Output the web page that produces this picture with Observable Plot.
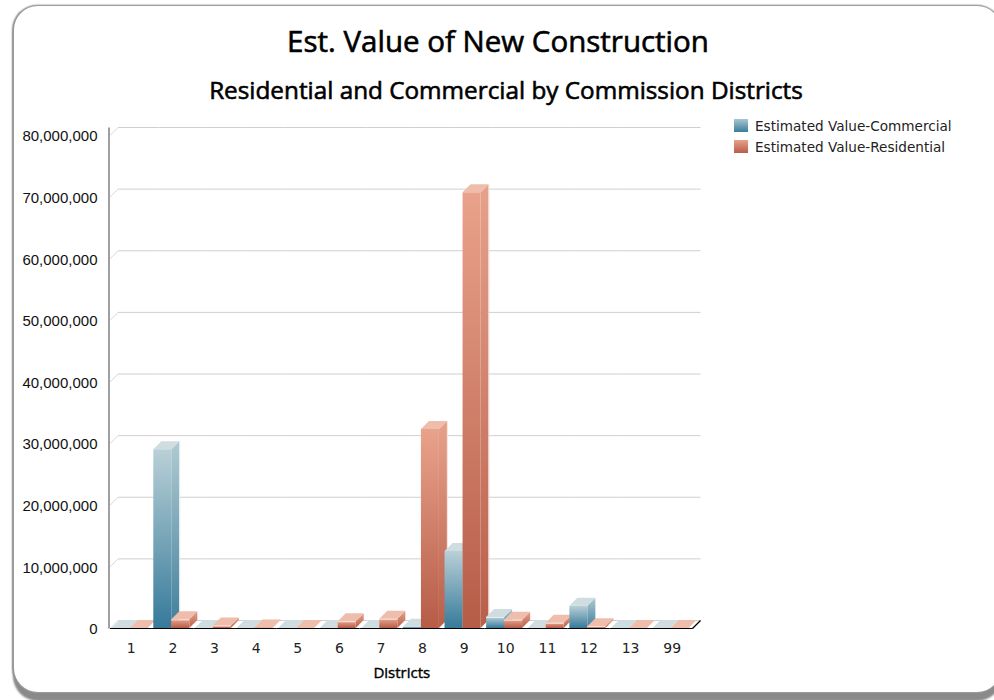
<!DOCTYPE html>
<html>
<head>
<meta charset="utf-8">
<script src="https://cdn.jsdelivr.net/npm/d3@7"></script>
<script src="https://cdn.jsdelivr.net/npm/@observablehq/plot@0.6"></script>
<style>
html,body{margin:0;padding:0;background:#fff;width:994px;height:700px;overflow:hidden}
#card{position:absolute;left:13.5px;top:6px;width:987px;height:686px;box-sizing:border-box;border-radius:24px;background:#fff;
 box-shadow:0 0 1.5px 1px #9c9c9c, -0.5px 0 1.5px 1px #8c8c8c, 0 8px 2px 1px #8a8a8a;pointer-events:none}
.t{position:absolute;text-align:center;color:#000;font-family:"Open Sans",sans-serif;-webkit-text-stroke:.6px #000;white-space:nowrap}
#title{left:0;width:996px;top:20px;font-size:29.5px;line-height:42px}
#sub{left:0;width:1012px;top:73px;font-size:24.3px;line-height:34px}
#chart{position:absolute;left:0;top:115px}
.leg{position:absolute;left:755px;font:13.6px "DejaVu Sans",sans-serif;color:#222;line-height:16px;white-space:nowrap}
.sw{position:absolute;left:734px;width:14px;height:13px}
</style>
</head>
<body>
<div id="card"></div>
<div class="t" id="title">Est. Value of New Construction</div>
<div class="t" id="sub">Residential and Commercial by Commission Districts</div>
<div class="sw" style="top:119px;background:linear-gradient(#a9c6d0,#3a7c9b)"></div>
<div class="leg" style="top:118px">Estimated Value-Commercial</div>
<div class="sw" style="top:140px;background:linear-gradient(#e9a18a,#b85d49)"></div>
<div class="leg" style="top:139px">Estimated Value-Residential</div>
<div id="chart"></div>
<script>
const districts = ["1","2","3","4","5","6","7","8","9","10","11","12","13","99"];
const commercial = [0,29000000,0,0,0,0,0,200000,12500000,1800000,0,3600000,0,0];
const residential = [0,1400000,400000,100000,0,1100000,1500000,32300000,70700000,1350000,850000,300000,0,0];
const yTicks = [0,10000000,20000000,30000000,40000000,50000000,60000000,70000000,80000000];
const DEPTH = 8;
const SVGNS = "http://www.w3.org/2000/svg";

function el(name, attrs) {
  const n = document.createElementNS(SVGNS, name);
  for (const k in attrs) n.setAttribute(k, attrs[k]);
  return n;
}
const faces = {
  "url(#gc)": {top:"#cfdde1", side:"url(#gcs)", fringe:"#e4eef1"},
  "url(#gr)": {top:"#eebdac", side:"url(#grs)", fringe:"#fae3db"}
};
// Turns each bar into a 3D box: side and top faces sit behind the front rect.
function box3d(index, scales, values, dims, ctx, next) {
  const g = next(index, scales, values, dims, ctx);
  for (const r of [...g.querySelectorAll("rect")]) {
    const x = +r.getAttribute("x"), y = +r.getAttribute("y"),
          w = +r.getAttribute("width"), h = +r.getAttribute("height");
    const f = faces[r.getAttribute("fill")];
    const p = r.parentNode;
    if (h > 0.5) {
      p.insertBefore(el("polygon", {
        points: `${x+w},${y} ${x+w+DEPTH},${y-DEPTH} ${x+w+DEPTH},${y+h-DEPTH} ${x+w},${y+h}`,
        fill: f.side
      }), r);
    }
    if (h > 40) {
      p.insertBefore(el("line", {x1:x+w+DEPTH+.5, y1:y-DEPTH, x2:x+w+DEPTH+.5, y2:y+h-DEPTH, stroke:f.fringe}), r);
    }
    p.insertBefore(el("polygon", {
      points: `${x},${y} ${x+DEPTH},${y-DEPTH} ${x+w+DEPTH},${y-DEPTH} ${x+w},${y}`,
      fill: f.top
    }), r);
    if (h >= 1.5 && h < 12) {
      p.appendChild(el("line", {x1:x, y1:y+.5, x2:x+w, y2:y+.5, stroke:"#fff", "stroke-opacity":.75}));
    }
  }
  return g;
}
function gridWall(index, scales, values, dims, ctx, next) {
  const g = next(index, scales, values, dims, ctx);
  for (const l of [...g.querySelectorAll("line")]) {
    const x = +l.getAttribute("x1"), y = +l.getAttribute("y1");
    l.setAttribute("x2", x - DEPTH);
    l.setAttribute("y2", y + DEPTH);
    l.setAttribute("stroke", "#d8d8d8");
  }
  return g;
}
function leftAxisLine(index, scales, values, dims, ctx, next) {
  const g = next(index, scales, values, dims, ctx);
  const l = g.querySelector("line");
  const x = +l.getAttribute("x1"), y = +l.getAttribute("y1");
  g.appendChild(el("line", {x1:x-1, y1:y, x2:x-1, y2:scales.y(80000000)-DEPTH, stroke:"#808080", "stroke-width":1.5}));
  return g;
}
function rightCorner(index, scales, values, dims, ctx, next) {
  const g = next(index, scales, values, dims, ctx);
  const l = g.querySelector("line");
  const x = +l.getAttribute("x2"), y = +l.getAttribute("y1");
  g.appendChild(el("line", {x1:x, y1:y, x2:x+DEPTH, y2:y-DEPTH, stroke:"#000"}));
  return g;
}
const rows = districts.flatMap((d,i)=>[
  {district:d, series:"c", value:commercial[i], fill:"url(#gc)"},
  {district:d, series:"r", value:residential[i], fill:"url(#gr)"}
]);

const chart = Plot.plot({
  width: 994, height: 580,
  marginLeft: 110, marginRight: 301.5, marginTop: 20, marginBottom: 67,
  style: {background:"transparent", overflow:"visible"},
  fx: {domain: districts, padding: 0, round:false},
  x: {domain:["c","r"], axis:null, paddingInner:0, paddingOuter:0.156, align:0.3, round:false},
  y: {domain:[0,80000000], axis:null},
  marks: [
    Plot.ruleY(yTicks, {stroke:"#cfcfcf", dx:DEPTH, dy:-DEPTH}),
    Plot.ruleY(yTicks, {fx:()=>districts[0], dx:DEPTH, dy:-DEPTH, render:gridWall}),
    Plot.barY(rows, {fx:"district", x:"series", y:"value", fill:{value:"fill", scale:null}, render:box3d}),
    Plot.ruleY([0], {stroke:"#000", strokeWidth:1.2}),
    Plot.ruleY([0], {fx:()=>districts[0], stroke:"#000", strokeWidth:1.2, render:leftAxisLine}),
    Plot.ruleY([0], {fx:()=>districts[districts.length-1], stroke:"#000", strokeWidth:1.2, render:rightCorner}),
    Plot.axisY({ticks:yTicks, tickSize:0, tickPadding:13, label:null, tickFormat:d3.format(","), dy:1,
      fontSize:15, fill:"#111", fontFamily:"Liberation Sans"}),
    Plot.axisFx({anchor:"bottom", tickSize:0, tickPadding:15, fontSize:14, fontFamily:"DejaVu Sans", fill:"#222",
      label:"Districts", labelAnchor:"center", labelArrow:"none", labelOffset:49})
  ]
});
const defs = d3.select(chart).insert("defs", ":first-child");
function grad(id, a, b) {
  const g = defs.append("linearGradient").attr("id", id).attr("x1",0).attr("y1",0).attr("x2",0).attr("y2",1);
  g.append("stop").attr("offset",0).attr("stop-color",a);
  g.append("stop").attr("offset",1).attr("stop-color",b);
}
grad("gc","#b9d0d7","#367a9a");
grad("gcs","#b0cad1","#3f7f9d");
grad("gr","#e9a28b","#b65c47");
grad("grs","#e6a28c","#b95f4a");
const axisLabel = d3.select(chart).selectAll("text").filter(function(){ return this.textContent === "Districts"; });
axisLabel.attr("font-family","Open Sans").attr("font-size",15).attr("fill","#000").attr("stroke","#000").attr("stroke-width",.4);
document.getElementById("chart").appendChild(chart);
</script>
</body>
</html>
